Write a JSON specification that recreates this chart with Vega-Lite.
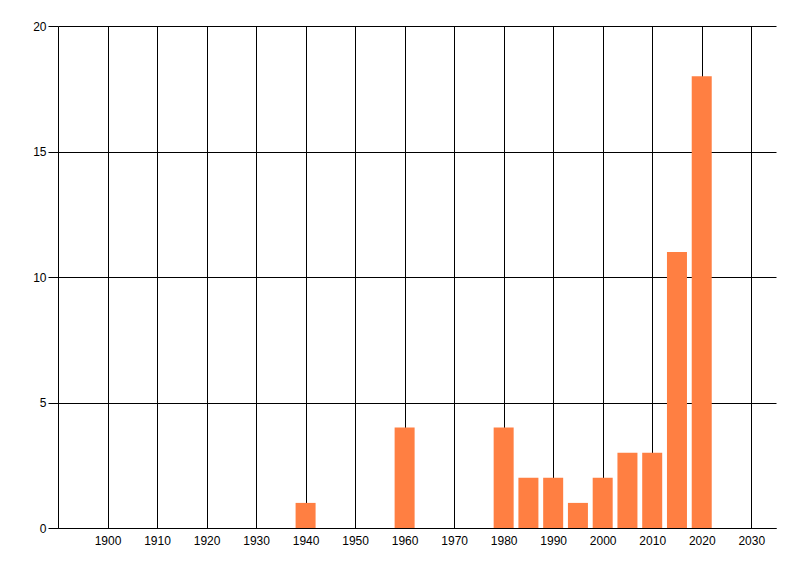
{
  "$schema": "https://vega.github.io/schema/vega-lite/v6.json",
  "width": 718,
  "height": 502,
  "autosize": "none",
  "padding": {"left": 58, "top": 26, "right": 24, "bottom": 48},
  "background": "white",
  "config": {
    "view": {"stroke": null},
    "axis": {
      "labelFont": "Liberation Sans",
      "labelFontSize": 12,
      "labelColor": "black",
      "gridColor": "black",
      "gridOpacity": 1,
      "gridWidth": 1,
      "domainColor": "black",
      "tickColor": "black"
    }
  },
  "data": {
    "values": [
      {"year": 1940, "count": 1},
      {"year": 1960, "count": 4},
      {"year": 1980, "count": 4},
      {"year": 1985, "count": 2},
      {"year": 1990, "count": 2},
      {"year": 1995, "count": 1},
      {"year": 2000, "count": 2},
      {"year": 2005, "count": 3},
      {"year": 2010, "count": 3},
      {"year": 2015, "count": 11},
      {"year": 2020, "count": 18}
    ]
  },
  "mark": {"type": "bar", "color": "#FF7F42", "size": 20},
  "encoding": {
    "x": {
      "field": "year",
      "type": "quantitative",
      "title": null,
      "scale": {"domain": [1890, 2035], "nice": false, "zero": false, "padding": 0},
      "axis": {
        "values": [1900, 1910, 1920, 1930, 1940, 1950, 1960, 1970, 1980, 1990, 2000, 2010, 2020, 2030],
        "format": "d",
        "ticks": false,
        "domain": true,
        "labelPadding": 7,
        "grid": true
      }
    },
    "y": {
      "field": "count",
      "type": "quantitative",
      "title": null,
      "scale": {"domain": [0, 20], "nice": false},
      "axis": {
        "values": [0, 5, 10, 15, 20],
        "tickSize": 10,
        "labelPadding": 2,
        "grid": true,
        "domain": true
      }
    }
  }
}
